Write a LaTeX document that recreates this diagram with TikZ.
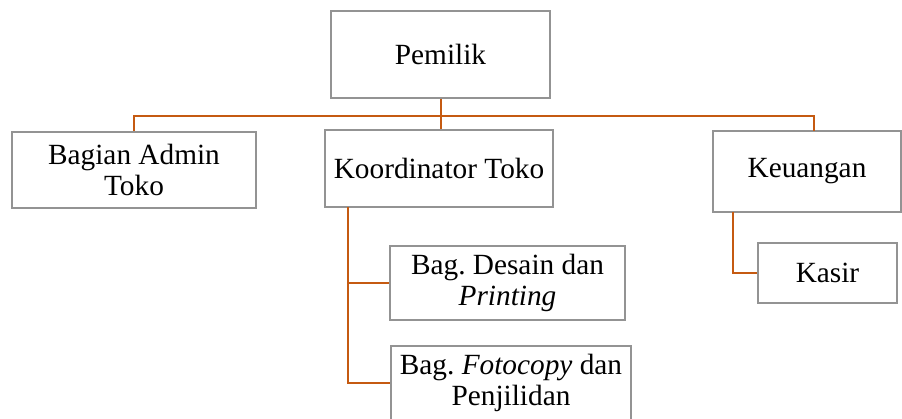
\documentclass[tikz,border=0pt]{standalone}
\usepackage{fontspec}
\setmainfont{Liberation Serif}
\definecolor{linkorange}{RGB}{197,90,17}
\frenchspacing

\begin{document}
\begin{tikzpicture}[x=1pt,y=-1pt,
    box/.style={draw=gray!85, line width=1.2pt, fill=white, inner sep=0pt, align=center,
        font=\fontsize{29.3}{30.5}\selectfont},
    link/.style={draw=linkorange, line width=2pt}]
    \useasboundingbox (0,0) rectangle (902,419);
    \node [box, minimum width=219pt, minimum height=87pt] (pemilik) at (440.5,54.5) {Pemilik};
    \node [box, minimum width=244pt, minimum height=76pt] (admin) at (134,170) {Bagian Admin\\Toko};
    \node [box, minimum width=228pt, minimum height=77pt] (koord) at (439,168.5) {Koordinator Toko};
    \node [box, minimum width=188pt, minimum height=81pt] (keu) at (807,171.5) {Keuangan};
    \node [box, minimum width=139pt, minimum height=60pt] (kasir) at (827.5,273) {Kasir};
    \node [box, minimum width=235pt, minimum height=74pt] (desain) at (507.5,283) {Bag. Desain dan\\\textit{Printing}};
    \node [box, minimum width=240pt, minimum height=74pt] (foto) at (511,383) {Bag. \textit{Fotocopy} dan\\Penjilidan};
    \coordinate (bus) at (440.5,115.7);
    \coordinate (keuin) at (814,131);
    \coordinate (koordout) at (348,207);
    \coordinate (keuout) at (733,212);
    \draw[link] (pemilik.south) -- (pemilik.south |- koord.north);
    \draw[link] (admin.north) |- (bus) -| (keuin);
    \draw[link] (koordout) |- (foto.west);
    \draw[link] (koordout |- desain.west) -- (desain.west);
    \draw[link] (keuout) |- (kasir.west);
\end{tikzpicture}
\end{document}
